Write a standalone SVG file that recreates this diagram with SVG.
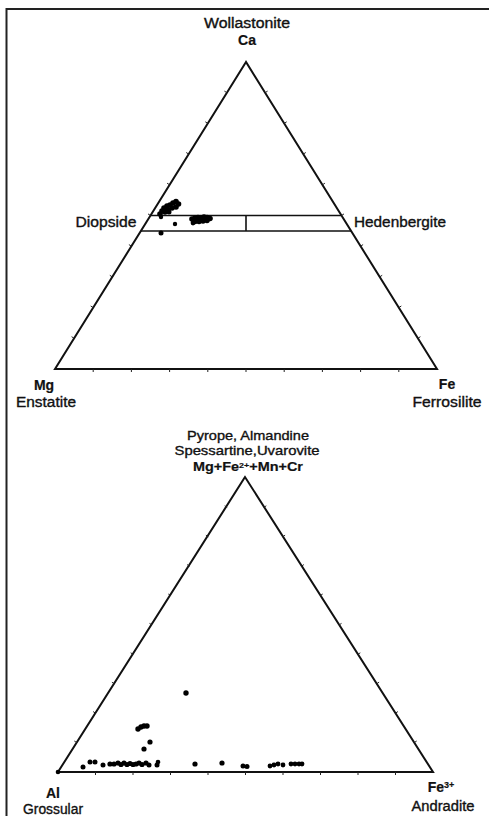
<svg xmlns="http://www.w3.org/2000/svg" width="489" height="816" viewBox="0 0 489 816">
<style>
.frame{fill:none;stroke:#222;stroke-width:2}
.tri{fill:none;stroke:#111;stroke-width:2;stroke-linejoin:miter}
.tick{fill:none;stroke:#222;stroke-width:1}
.box{fill:none;stroke:#111;stroke-width:1.6}
.pt{fill:#000}
text{font-family:"Liberation Sans",Arial,sans-serif;font-size:14px;fill:#111;stroke:#111;stroke-width:0.35;text-anchor:middle}
.b{font-weight:bold;stroke-width:0.2}
.s{font-size:13px}
</style>
<rect width="489" height="816" fill="#fff"/>
<path class="frame" d="M6.5,816 V9 H489"/>

<g id="pyroxene-triangle">
<path class="tri" d="M246,62 L55,369 L437,369 Z"/>
<path class="tick" d="M74.1,338.3 l-2.5,-1.6 M93.2,307.6 l-2.5,-1.6 M112.3,276.9 l-2.5,-1.6 M131.4,246.2 l-2.5,-1.6 M150.5,215.5 l-2.5,-1.6 M169.6,184.8 l-2.5,-1.6 M188.7,154.1 l-2.5,-1.6 M207.8,123.4 l-2.5,-1.6 M226.9,92.7 l-2.5,-1.6 M417.9,338.3 l2.5,-1.6 M398.8,307.6 l2.5,-1.6 M379.7,276.9 l2.5,-1.6 M360.6,246.2 l2.5,-1.6 M341.5,215.5 l2.5,-1.6 M322.4,184.8 l2.5,-1.6 M303.3,154.1 l2.5,-1.6 M284.2,123.4 l2.5,-1.6 M265.1,92.7 l2.5,-1.6 M93.2,369 v3 M131.4,369 v3 M169.6,369 v3 M207.8,369 v3 M246,369 v3 M284.2,369 v3 M322.4,369 v3 M360.6,369 v3 M398.8,369 v3"/>
</g>

<g id="di-hd-field">
<path class="box" d="M150.5,215.5 H341.5 M141,231 H351 M246,215.5 V231"/>
</g>

<g id="pyroxene-labels">
<text x="247" y="28" textLength="86" lengthAdjust="spacingAndGlyphs">Wollastonite</text>
<text class="b" x="247" y="45">Ca</text>
<text x="106" y="227" textLength="61" lengthAdjust="spacingAndGlyphs">Diopside</text>
<text x="400" y="227" textLength="92" lengthAdjust="spacingAndGlyphs">Hedenbergite</text>
<text class="b" x="44" y="390">Mg</text>
<text x="46" y="407" textLength="60" lengthAdjust="spacingAndGlyphs">Enstatite</text>
<text class="b" x="447" y="389">Fe</text>
<text x="447" y="407" textLength="69" lengthAdjust="spacingAndGlyphs">Ferrosilite</text>
</g>

<g id="pyroxene-data">
<circle class="pt" cx="160" cy="214" r="2.8"/>
<circle class="pt" cx="162" cy="211" r="2.8"/>
<circle class="pt" cx="164" cy="208" r="2.8"/>
<circle class="pt" cx="167" cy="206" r="2.8"/>
<circle class="pt" cx="170" cy="205" r="2.8"/>
<circle class="pt" cx="173" cy="203" r="2.8"/>
<circle class="pt" cx="176" cy="201.5" r="2.8"/>
<circle class="pt" cx="178.5" cy="204" r="2.8"/>
<circle class="pt" cx="176" cy="207" r="2.8"/>
<circle class="pt" cx="172" cy="208" r="2.8"/>
<circle class="pt" cx="168" cy="210" r="2.8"/>
<circle class="pt" cx="165" cy="212" r="2.8"/>
<circle class="pt" cx="169" cy="212" r="2.5"/>
<circle class="pt" cx="161" cy="217" r="2.2"/>
<circle class="pt" cx="192" cy="219" r="2.8"/>
<circle class="pt" cx="195" cy="218" r="2.8"/>
<circle class="pt" cx="198" cy="217.5" r="2.8"/>
<circle class="pt" cx="201" cy="218" r="2.8"/>
<circle class="pt" cx="204" cy="217" r="2.8"/>
<circle class="pt" cx="207" cy="217.5" r="2.8"/>
<circle class="pt" cx="210" cy="218.5" r="2.8"/>
<circle class="pt" cx="195" cy="221.5" r="2.8"/>
<circle class="pt" cx="199" cy="221.5" r="2.8"/>
<circle class="pt" cx="203" cy="221" r="2.8"/>
<circle class="pt" cx="207" cy="220.5" r="2.8"/>
<circle class="pt" cx="193" cy="223" r="2.4"/>
<circle class="pt" cx="175" cy="224" r="2.2"/>
<circle class="pt" cx="161" cy="233" r="2.5"/>
</g>

<g id="garnet-triangle">
<path class="tri" d="M245,477 L58,772 L433,772 Z"/>
<path class="tick" d="M76.8,742.6 l-2.5,-1.6 M95.6,713.2 l-2.5,-1.6 M114.4,683.8 l-2.5,-1.6 M133.2,654.4 l-2.5,-1.6 M152,625 l-2.5,-1.6 M170.8,595.6 l-2.5,-1.6 M189.6,566.2 l-2.5,-1.6 M208.4,536.8 l-2.5,-1.6 M227.2,507.4 l-2.5,-1.6 M414.2,742.6 l2.5,-1.6 M395.4,713.2 l2.5,-1.6 M376.6,683.8 l2.5,-1.6 M357.8,654.4 l2.5,-1.6 M339,625 l2.5,-1.6 M320.2,595.6 l2.5,-1.6 M301.4,566.2 l2.5,-1.6 M282.6,536.8 l2.5,-1.6 M263.8,507.4 l2.5,-1.6 M95.5,772 v3 M133,772 v3 M170.5,772 v3 M208,772 v3 M245.5,772 v3 M283,772 v3 M320.5,772 v3 M358,772 v3 M395.5,772 v3"/>
<circle class="pt" cx="58" cy="772" r="2.3"/>
</g>

<g id="garnet-labels">
<text class="s" x="248" y="440" textLength="122" lengthAdjust="spacingAndGlyphs">Pyrope, Almandine</text>
<text class="s" x="247" y="455" textLength="145" lengthAdjust="spacingAndGlyphs">Spessartine,Uvarovite</text>
<text class="b s" x="248" y="471" textLength="110" lengthAdjust="spacingAndGlyphs">Mg+Fe<tspan font-size="8" dy="-3.5">2+</tspan><tspan dy="3.5">+Mn+Cr</tspan></text>
<text class="b" x="53" y="798">Al</text>
<text x="53" y="814" textLength="60" lengthAdjust="spacingAndGlyphs">Grossular</text>
<text class="b" x="441" y="792">Fe<tspan font-size="9" dy="-4">3+</tspan></text>
<text x="443" y="811" textLength="63" lengthAdjust="spacingAndGlyphs">Andradite</text>
</g>

<g id="garnet-data">
<circle class="pt" cx="186" cy="693" r="2.7"/>
<circle class="pt" cx="138" cy="729" r="2.7"/>
<circle class="pt" cx="141" cy="727" r="2.7"/>
<circle class="pt" cx="144" cy="726" r="2.7"/>
<circle class="pt" cx="147" cy="726" r="2.7"/>
<circle class="pt" cx="150" cy="742" r="2.6"/>
<circle class="pt" cx="144" cy="749" r="2.6"/>
<circle class="pt" cx="83" cy="767" r="2.5"/>
<circle class="pt" cx="90" cy="762" r="2.5"/>
<circle class="pt" cx="95" cy="762" r="2.5"/>
<circle class="pt" cx="103" cy="765" r="2.5"/>
<circle class="pt" cx="110" cy="764" r="2.6"/>
<circle class="pt" cx="114" cy="764" r="2.6"/>
<circle class="pt" cx="118" cy="763" r="2.6"/>
<circle class="pt" cx="121" cy="764.5" r="2.6"/>
<circle class="pt" cx="124" cy="763" r="2.6"/>
<circle class="pt" cx="127" cy="764.5" r="2.6"/>
<circle class="pt" cx="130" cy="763.5" r="2.6"/>
<circle class="pt" cx="133" cy="764.5" r="2.6"/>
<circle class="pt" cx="136" cy="764" r="2.6"/>
<circle class="pt" cx="139" cy="763" r="2.6"/>
<circle class="pt" cx="142" cy="764.5" r="2.6"/>
<circle class="pt" cx="146" cy="763" r="2.6"/>
<circle class="pt" cx="149" cy="765" r="2.5"/>
<circle class="pt" cx="157" cy="765" r="2.5"/>
<circle class="pt" cx="158" cy="762" r="2.3"/>
<circle class="pt" cx="195" cy="764" r="2.6"/>
<circle class="pt" cx="222" cy="763" r="2.6"/>
<circle class="pt" cx="243" cy="766" r="2.5"/>
<circle class="pt" cx="247" cy="766.5" r="2.5"/>
<circle class="pt" cx="270" cy="766" r="2.4"/>
<circle class="pt" cx="274" cy="765" r="2.4"/>
<circle class="pt" cx="278" cy="764" r="2.4"/>
<circle class="pt" cx="283" cy="765" r="2.4"/>
<circle class="pt" cx="291" cy="764" r="2.4"/>
<circle class="pt" cx="295" cy="764" r="2.4"/>
<circle class="pt" cx="299" cy="764" r="2.4"/>
<circle class="pt" cx="302" cy="764" r="2.4"/>
</g>
</svg>
